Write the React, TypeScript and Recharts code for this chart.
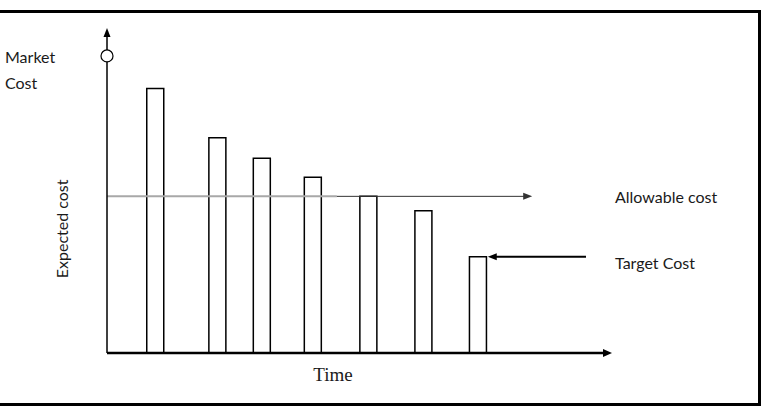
import { ComposedChart, Bar, XAxis, YAxis, ReferenceLine, ReferenceDot } from 'recharts'

// time positions of the cost estimates (0-100 along the time axis)
const times = [9.5, 21.8, 30.6, 40.7, 51.7, 62.6, 73.4]
// expected cost at each estimate (0-100 along the cost axis)
const costs = [81.4, 66.2, 59.9, 54.1, 48.2, 43.8, 29.6]

const marketCost = 91.4
const allowableCost = 48.2
const targetCost = 29.6

const data = times.map((t, i) => ({ t, cost: costs[i] }))

const sans = 'Lato, "Open Sans", sans-serif'
const serif = '"Liberation Serif", "Times New Roman", serif'

function arrow(color: string, width: number, head: number, half: number) {
  return (p: any) => {
    const { x1, y1, x2, y2 } = p
    const a = Math.atan2(y2 - y1, x2 - x1)
    const bx = x2 - head * Math.cos(a)
    const by = y2 - head * Math.sin(a)
    const nx = -Math.sin(a) * half
    const ny = Math.cos(a) * half
    return (
      <g>
        <line x1={x1} y1={y1} x2={bx + Math.cos(a)} y2={by + Math.sin(a)} stroke={color} strokeWidth={width} />
        <polygon points={`${x2},${y2} ${bx + nx},${by + ny} ${bx - nx},${by - ny}`} fill={color} />
      </g>
    )
  }
}

function plain(color: string, width: number) {
  return (p: any) => <line x1={p.x1} y1={p.y1} x2={p.x2} y2={p.y2} stroke={color} strokeWidth={width} />
}

function word(text: string, opts: { anchor?: string; font?: string; size?: number; rotate?: boolean }) {
  return (p: any) => (
    <text
      x={p.cx}
      y={p.cy}
      textAnchor={opts.anchor ?? 'start'}
      dominantBaseline="central"
      fontFamily={opts.font ?? sans}
      fontSize={opts.size ?? 16}
      fill="#1a1a1a"
      transform={opts.rotate ? `rotate(-90 ${p.cx} ${p.cy})` : undefined}
    >
      {text}
    </text>
  )
}

export default function App() {
  return (
    <div style={{ position: 'absolute', left: 0, top: 0, width: 763, height: 406, background: '#fff' }}>
      <div
        style={{
          position: 'absolute',
          left: -3,
          top: 10,
          width: 764,
          height: 396,
          border: '3px solid #000',
          boxSizing: 'border-box',
        }}
      />
      <ComposedChart
        width={763}
        height={406}
        data={data}
        margin={{ top: 28, left: 107, right: 151, bottom: 53 }}
        style={{ position: 'absolute', left: 0, top: 0 }}
      >
        <XAxis type="number" dataKey="t" domain={[0, 100]} hide allowDataOverflow />
        <YAxis type="number" domain={[0, 100]} hide allowDataOverflow />
        <Bar dataKey="cost" barSize={17} fill="#fff" stroke="#000" strokeWidth={1.5} isAnimationActive={false} />

        <ReferenceLine segment={[{ x: 0, y: allowableCost }, { x: 45.5, y: allowableCost }]} shape={plain('#a8a8a8', 2)} />
        <ReferenceLine segment={[{ x: 45.5, y: allowableCost }, { x: 84.2, y: allowableCost }]} shape={arrow('#333', 1, 9, 3.5)} />
        <ReferenceLine segment={[{ x: 94.85, y: targetCost }, { x: 75.4, y: targetCost }]} shape={arrow('#000', 2, 9, 3.5)} />

        <ReferenceLine segment={[{ x: 0, y: 0 }, { x: 0, y: 100 }]} shape={arrow('#000', 1.5, 9, 3.5)} />
        <ReferenceLine segment={[{ x: 0, y: 0 }, { x: 100, y: 0 }]} shape={arrow('#000', 2.5, 9, 4)} />

        <ReferenceDot x={0} y={marketCost} r={6} fill="#fff" stroke="#000" strokeWidth={1.2} ifOverflow="visible" />

        <ReferenceDot x={-20.2} y={91.1} ifOverflow="visible" shape={word('Market', {})} />
        <ReferenceDot x={-20.2} y={83.1} ifOverflow="visible" shape={word('Cost', {})} />
        <ReferenceDot x={-9.1} y={38.2} ifOverflow="visible" shape={word('Expected cost', { anchor: 'middle', rotate: true })} />
        <ReferenceDot x={44.75} y={-6.5} ifOverflow="visible" shape={word('Time', { anchor: 'middle', font: serif, size: 19 })} />
        <ReferenceDot x={100.6} y={allowableCost} ifOverflow="visible" shape={word('Allowable cost', {})} />
        <ReferenceDot x={100.6} y={28} ifOverflow="visible" shape={word('Target Cost', {})} />
      </ComposedChart>
    </div>
  )
}
